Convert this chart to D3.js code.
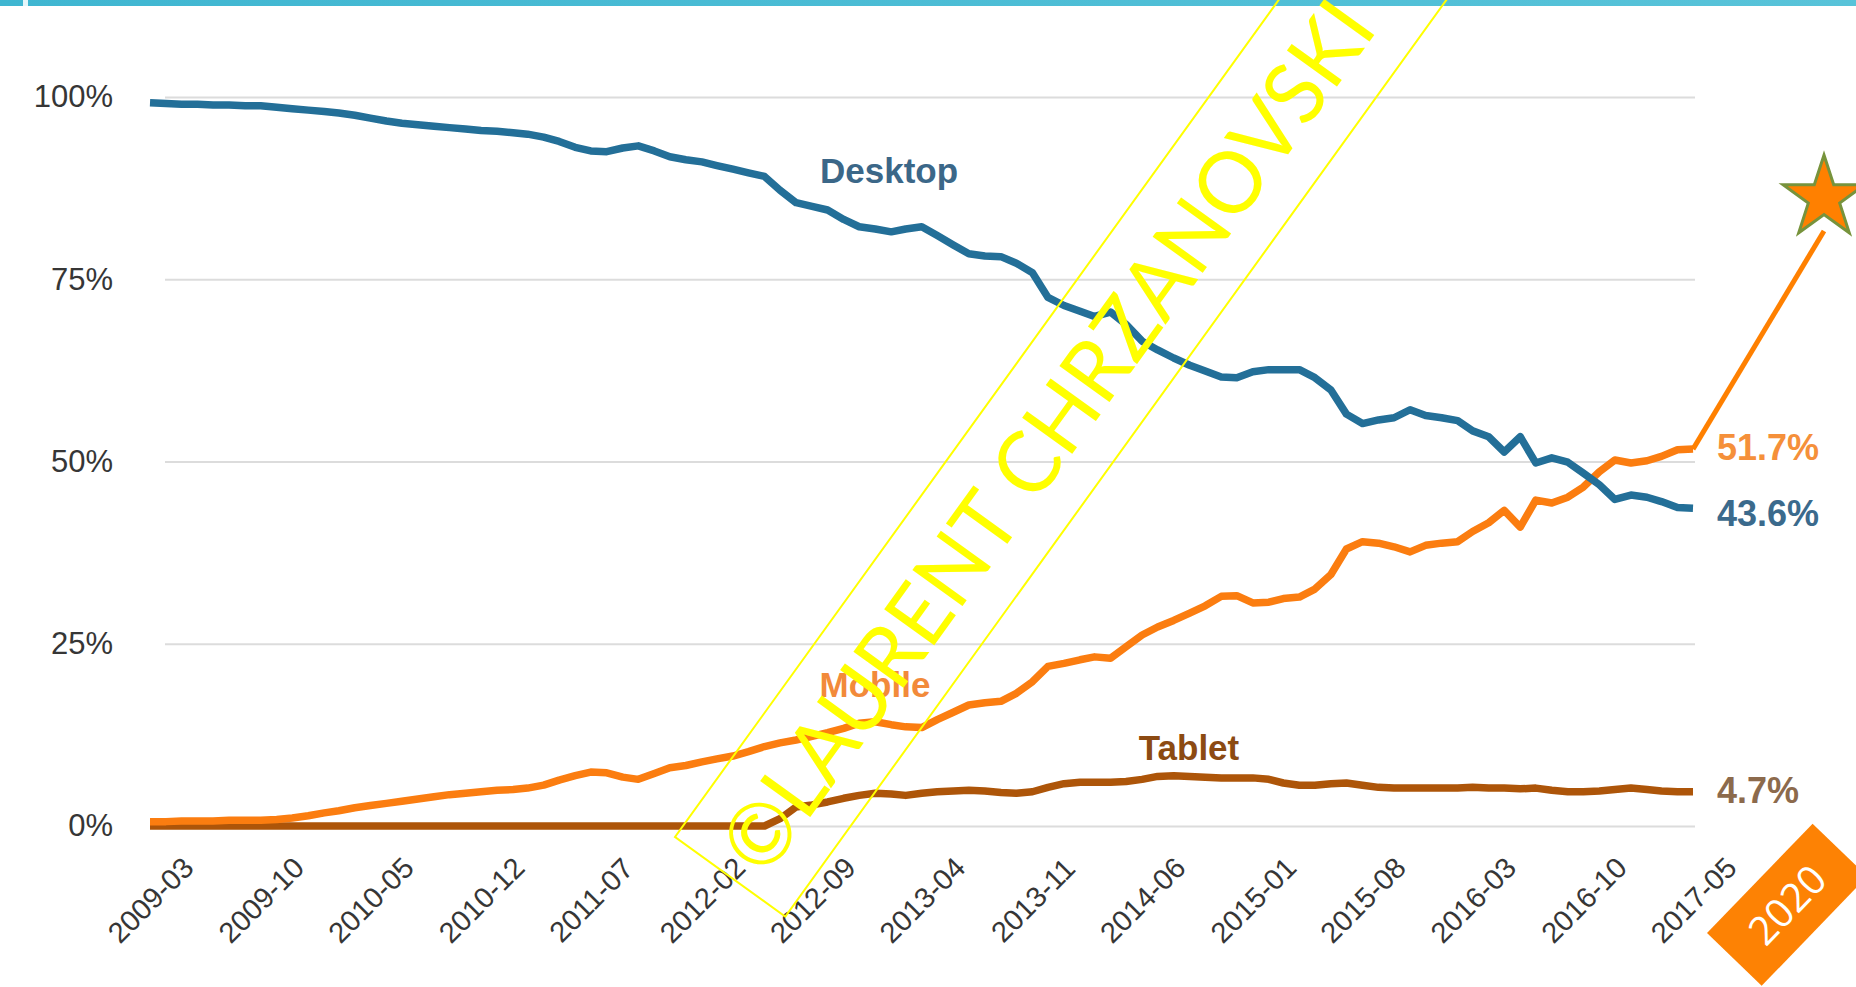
<!DOCTYPE html>
<html>
<head>
<meta charset="utf-8">
<script src="https://cdn.jsdelivr.net/npm/d3@7"></script>
<style>
  html, body { margin: 0; padding: 0; background: #fff; overflow: hidden; }
  svg { display: block; }
</style>
</head>
<body>
<svg id="chart"></svg>
<script>
// Page size
const W = 1856, H = 987;

// Data: monthly share (%) from 2009-03 to 2017-05
const startMonth = "2009-03";
const tickLabels = ["2009-03", "2009-10", "2010-05", "2010-12", "2011-07", "2012-02", "2012-09",
  "2013-04", "2013-11", "2014-06", "2015-01", "2015-08", "2016-03", "2016-10", "2017-05"];
const yTicks = [0, 25, 50, 75, 100];

const desktop = [99.2, 99.1, 99.0, 99.0, 98.9, 98.9, 98.8, 98.8, 98.6, 98.4,
  98.2, 98.0, 97.8, 97.5, 97.1, 96.7, 96.4, 96.2, 96.0, 95.8,
  95.6, 95.4, 95.3, 95.1, 94.9, 94.5, 93.9, 93.1, 92.6, 92.5,
  93.0, 93.3, 92.6, 91.8, 91.4, 91.1, 90.6, 90.1, 89.6, 89.1,
  87.2, 85.5, 85.0, 84.5, 83.2, 82.2, 81.9, 81.5, 81.9, 82.2,
  81.0, 79.7, 78.5, 78.2, 78.1, 77.2, 75.9, 72.5, 71.4, 70.6,
  69.9, 70.5, 68.8, 66.5, 65.3, 64.2, 63.2, 62.4, 61.6, 61.5,
  62.3, 62.6, 62.6, 62.6, 61.5, 59.8, 56.5, 55.2, 55.7, 56.0,
  57.1, 56.3, 56.0, 55.6, 54.2, 53.4, 51.3, 53.4, 49.8, 50.5,
  49.9, 48.4, 46.8, 44.8, 45.4, 45.1, 44.5, 43.7, 43.6];

const mobile = [0.6, 0.6, 0.7, 0.7, 0.7, 0.8, 0.8, 0.8, 0.9, 1.1,
  1.4, 1.8, 2.1, 2.5, 2.8, 3.1, 3.4, 3.7, 4.0, 4.3,
  4.5, 4.7, 4.9, 5.0, 5.2, 5.6, 6.3, 6.9, 7.4, 7.3,
  6.7, 6.4, 7.2, 8.0, 8.3, 8.8, 9.2, 9.6, 10.2, 10.9,
  11.4, 11.8, 12.3, 12.8, 13.4, 14.1, 14.3, 13.9, 13.6, 13.5,
  14.6, 15.6, 16.6, 16.9, 17.1, 18.2, 19.8, 21.9, 22.3, 22.8,
  23.2, 23.0, 24.6, 26.2, 27.3, 28.2, 29.2, 30.2, 31.5, 31.6,
  30.6, 30.7, 31.2, 31.4, 32.5, 34.5, 38.0, 39.0, 38.8, 38.3,
  37.6, 38.5, 38.8, 39.0, 40.4, 41.6, 43.3, 41.0, 44.7, 44.3,
  45.1, 46.5, 48.6, 50.2, 49.8, 50.1, 50.7, 51.6, 51.7];

const tablet = [0, 0, 0, 0, 0, 0, 0, 0, 0, 0,
  0, 0, 0, 0, 0, 0, 0, 0, 0, 0,
  0, 0, 0, 0, 0, 0, 0, 0, 0, 0,
  0, 0, 0, 0, 0, 0, 0, 0, 0, 0,
  1.0, 2.6, 2.9, 3.3, 3.8, 4.2, 4.5, 4.4, 4.2, 4.5,
  4.7, 4.8, 4.9, 4.8, 4.6, 4.5, 4.7, 5.3, 5.8, 6.0,
  6.0, 6.0, 6.1, 6.4, 6.8, 6.9, 6.8, 6.7, 6.6, 6.6,
  6.6, 6.4, 5.9, 5.6, 5.6, 5.8, 5.9, 5.6, 5.3, 5.2,
  5.2, 5.2, 5.2, 5.2, 5.3, 5.2, 5.2, 5.1, 5.2, 4.9,
  4.7, 4.7, 4.8, 5.0, 5.2, 5.0, 4.8, 4.7, 4.7];

const svg = d3.select("#chart").attr("width", W).attr("height", H);

// Top banner stripe
const grad = svg.append("defs").append("linearGradient").attr("id", "topbar");
grad.append("stop").attr("offset", "0%").attr("stop-color", "#3fb6d1");
grad.append("stop").attr("offset", "100%").attr("stop-color", "#58c3d9");
svg.append("rect").attr("x", 0).attr("y", 0).attr("width", W).attr("height", 6).attr("fill", "url(#topbar)");
svg.append("rect").attr("x", 23).attr("y", 0).attr("width", 5).attr("height", 6).attr("fill", "#e4f6fa");

// Scales
const parseMonth = d3.timeParse("%Y-%m");
const dates = desktop.map((d, i) => d3.timeMonth.offset(parseMonth(startMonth), i));
const x = d3.scaleTime().domain([parseMonth(startMonth), parseMonth("2017-05")]).range([150, 1693]);
const y = d3.scaleLinear().domain([0, 100]).range([826, 97]);

// Y axis with gridlines
const yAxis = svg.append("g")
  .attr("transform", "translate(165,0)")
  .call(d3.axisLeft(y).tickValues(yTicks).tickSize(-1530).tickPadding(52).tickFormat((d) => d + "%"));
yAxis.select(".domain").remove();
yAxis.selectAll(".tick line").attr("stroke", "#dcdcdc").attr("stroke-width", 2);
yAxis.selectAll(".tick text")
  .attr("fill", "#363636")
  .style("font-family", "'Liberation Sans', Arial, sans-serif")
  .style("font-size", "31px");

// X axis with rotated labels
const xAxis = svg.append("g")
  .attr("transform", "translate(0,826)")
  .call(d3.axisBottom(x).tickValues(tickLabels.map(parseMonth)).tickSize(0).tickFormat(d3.timeFormat("%Y-%m")));
xAxis.select(".domain").remove();
xAxis.selectAll(".tick text")
  .attr("y", 0)
  .attr("dy", "0.35em")
  .attr("text-anchor", "middle")
  .attr("transform", "translate(0,74) rotate(-45)")
  .attr("fill", "#363636")
  .style("font-family", "'Liberation Sans', Arial, sans-serif")
  .style("font-size", "29px");

// Lines
const line = d3.line().x((d, i) => x(dates[i])).y((d) => y(d));
const series = [
  { name: "Tablet", values: tablet, color: "#ad5509" },
  { name: "Mobile", values: mobile, color: "#fb7d10" },
  { name: "Desktop", values: desktop, color: "#236f98" },
];
svg.selectAll(".series")
  .data(series)
  .enter()
  .append("path")
  .attr("class", "series")
  .attr("d", (d) => line(d.values))
  .attr("fill", "none")
  .attr("stroke", (d) => d.color)
  .attr("stroke-width", 7.5)
  .attr("stroke-linejoin", "round");

// Series name labels
const nameLabels = [
  { text: "Desktop", x: 889, y: 183, color: "#3b6788" },
  { text: "Mobile", x: 875, y: 697, color: "#f28a3a" },
  { text: "Tablet", x: 1189, y: 760, color: "#8c4a12" },
];
svg.selectAll(".name-label")
  .data(nameLabels)
  .enter()
  .append("text")
  .attr("class", "name-label")
  .attr("x", (d) => d.x)
  .attr("y", (d) => d.y)
  .attr("text-anchor", "middle")
  .attr("fill", (d) => d.color)
  .style("font-family", "'Liberation Sans', Arial, sans-serif")
  .style("font-weight", "bold")
  .style("font-size", "35px")
  .text((d) => d.text);

// End value labels
const last = dates.length - 1;
const endLabels = [
  { text: mobile[last] + "%", v: mobile[last], dy: 11, color: "#f5903a" },
  { text: desktop[last] + "%", v: desktop[last], dy: 18, color: "#3b6a8c" },
  { text: tablet[last] + "%", v: tablet[last], dy: 11, color: "#8c6a4c" },
];
svg.selectAll(".end-label")
  .data(endLabels)
  .enter()
  .append("text")
  .attr("class", "end-label")
  .attr("x", x(dates[last]) + 24)
  .attr("y", (d) => y(d.v) + d.dy)
  .attr("fill", (d) => d.color)
  .style("font-family", "'Liberation Sans', Arial, sans-serif")
  .style("font-weight", "bold")
  .style("font-size", "36px")
  .text((d) => d.text);

// Pointer from last mobile value to the star
svg.append("line")
  .attr("x1", x(dates[last]))
  .attr("y1", y(mobile[last]))
  .attr("x2", 1824)
  .attr("y2", 231)
  .attr("stroke", "#ff8000")
  .attr("stroke-width", 5);

// Star
const starPts = d3.range(10).map((k) => {
  const r = k % 2 === 0 ? 43 : 16.5;
  const a = (k * Math.PI) / 5;
  return [r * Math.sin(a), -r * Math.cos(a)];
});
svg.append("polygon")
  .attr("transform", "translate(1824,198)")
  .attr("points", starPts.map((p) => p.join(",")).join(" "))
  .attr("fill", "#ff8000")
  .attr("stroke", "#77933c")
  .attr("stroke-width", 3);

// 2020 badge
const badge = svg.append("g").attr("transform", "translate(1707,933) rotate(-46)");
badge.append("rect").attr("x", 0).attr("y", 0).attr("width", 152).attr("height", 76).attr("fill", "#fd8204");
badge.append("text")
  .attr("x", 76)
  .attr("y", 38)
  .attr("dy", "0.36em")
  .attr("text-anchor", "middle")
  .attr("fill", "#fff")
  .style("font-family", "'Open Sans', sans-serif")
  .style("font-size", "40px")
  .text("2020");

// Watermark
const wm = svg.append("g").attr("transform", "translate(675,837) rotate(-54.2)");
wm.append("rect")
  .attr("x", 0).attr("y", 0).attr("width", 1400).attr("height", 136)
  .attr("fill", "none").attr("stroke", "#ffff00").attr("stroke-width", 2);
wm.append("text")
  .attr("x", 18)
  .attr("y", 98)
  .attr("textLength", 1140)
  .attr("lengthAdjust", "spacingAndGlyphs")
  .attr("fill", "#ffff00")
  .style("font-family", "Lato, 'Open Sans', sans-serif")
  .style("font-size", "86px")
  .text("©LAURENT CHRZANOVSKI ©");
</script>
</body>
</html>
